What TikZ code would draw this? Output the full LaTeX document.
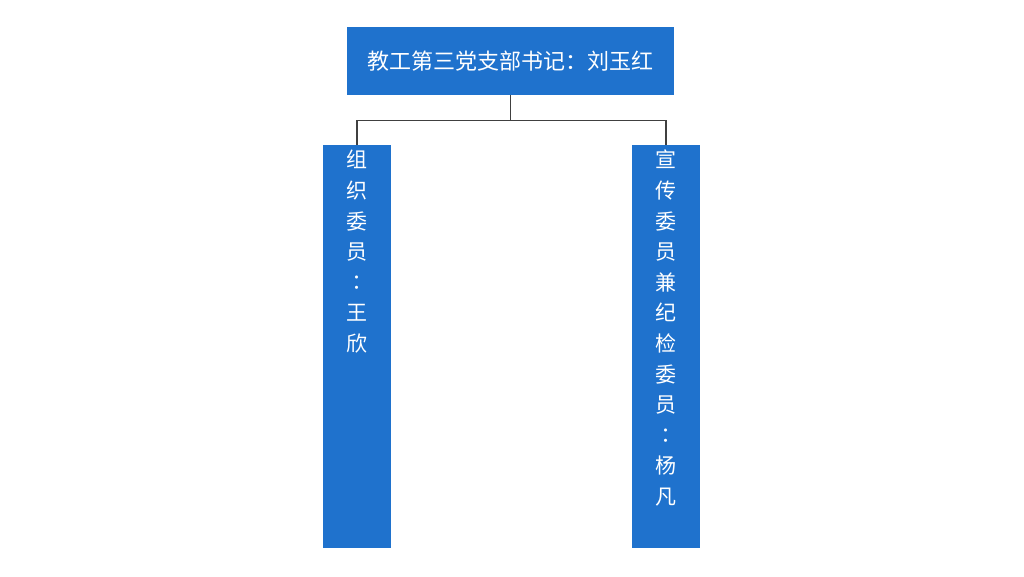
\documentclass[tikz,border=0pt]{standalone}
\usepackage{fontspec}
\newfontfamily\cjk{Noto Sans CJK SC}
\newfontfamily\cjktc{Noto Sans CJK TC}
\definecolor{boxblue}{HTML}{1F72CD}
\definecolor{linegray}{HTML}{404040}
\tikzset{
  orgbox/.style={fill=boxblue, draw=none, inner sep=0pt},
  coltext/.style={text=white, inner sep=0pt, align=center, anchor=north,
    font=\cjk\fontsize{21}{30.6}\selectfont},
  link/.style={draw=linegray, line width=1.4pt}
}
\begin{document}
\begin{tikzpicture}[x=1pt,y=-1pt]
\useasboundingbox (0,0) rectangle (1024,576);
\fill[white] (0,0) rectangle (1024,576);
\node[orgbox, minimum width=327pt, minimum height=68pt, text=white,
  font=\cjk\fontsize{22}{26}\selectfont] (top) at (510.5,61)
  {教工第三党支部书记：刘玉红};
\node[orgbox, minimum width=68pt, minimum height=403pt] (left) at (357,346.5) {};
\node[orgbox, minimum width=68pt, minimum height=403pt] (right) at (666,346.5) {};
\node[coltext] (lefttext) at (357,150)
  {组\\织\\委\\员\\{\cjktc ：}\\王\\欣};
\node[coltext] (righttext) at (666,150)
  {宣\\传\\委\\员\\兼\\纪\\检\\委\\员\\{\cjktc ：}\\杨\\凡};
\draw[link] (top.south) -- ++(0,25) -| (left.north);
\draw[link] (top.south) -- ++(0,25) -| (right.north);
\end{tikzpicture}
\end{document}
